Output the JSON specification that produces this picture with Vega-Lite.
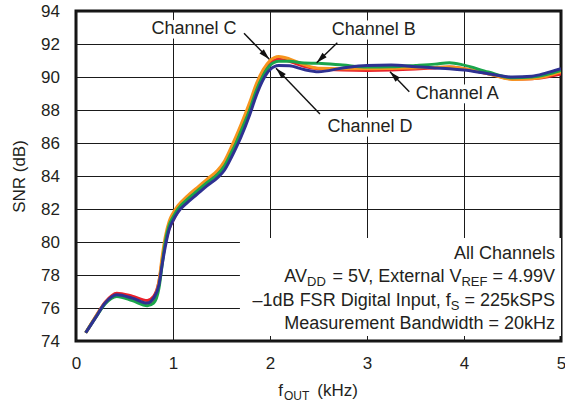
{
  "$schema": "https://vega.github.io/schema/vega-lite/v6.json",
  "width": 485,
  "height": 330,
  "autosize": {"type": "none"},
  "padding": {"left": 76, "top": 11, "right": 4, "bottom": 65},
  "background": "white",
  "datasets": {
    "snr": [
      {"ch":"A","f":0.1,"snr":74.5},{"ch":"A","f":0.2,"snr":75.45},{"ch":"A","f":0.3,"snr":76.35},{"ch":"A","f":0.42,"snr":76.9},{"ch":"A","f":0.58,"snr":76.72},{"ch":"A","f":0.735,"snr":76.46},{"ch":"A","f":0.8,"snr":76.7},{"ch":"A","f":0.855,"snr":77.6},{"ch":"A","f":0.89,"snr":78.9},{"ch":"A","f":0.92,"snr":79.9},{"ch":"A","f":0.96,"snr":80.8},{"ch":"A","f":1.0,"snr":81.3},{"ch":"A","f":1.05,"snr":81.85},{"ch":"A","f":1.15,"snr":82.5},{"ch":"A","f":1.25,"snr":83.05},{"ch":"A","f":1.35,"snr":83.6},{"ch":"A","f":1.46,"snr":84.15},{"ch":"A","f":1.53,"snr":84.7},{"ch":"A","f":1.6,"snr":85.5},{"ch":"A","f":1.65,"snr":86.1},{"ch":"A","f":1.7,"snr":86.85},{"ch":"A","f":1.79,"snr":88.2},{"ch":"A","f":1.86,"snr":89.4},{"ch":"A","f":1.93,"snr":90.3},{"ch":"A","f":2.0,"snr":90.85},{"ch":"A","f":2.09,"snr":91.07},{"ch":"A","f":2.2,"snr":90.95},{"ch":"A","f":2.35,"snr":90.65},{"ch":"A","f":2.5,"snr":90.5},{"ch":"A","f":2.75,"snr":90.42},{"ch":"A","f":3.0,"snr":90.4},{"ch":"A","f":3.25,"snr":90.42},{"ch":"A","f":3.5,"snr":90.48},{"ch":"A","f":3.7,"snr":90.55},{"ch":"A","f":3.85,"snr":90.6},{"ch":"A","f":4.0,"snr":90.5},{"ch":"A","f":4.25,"snr":90.2},{"ch":"A","f":4.5,"snr":89.88},{"ch":"A","f":4.7,"snr":89.9},{"ch":"A","f":4.85,"snr":90.0},{"ch":"A","f":5.0,"snr":90.18},
      {"ch":"C","f":0.1,"snr":74.5},{"ch":"C","f":0.2,"snr":75.45},{"ch":"C","f":0.3,"snr":76.3},{"ch":"C","f":0.42,"snr":76.75},{"ch":"C","f":0.58,"snr":76.55},{"ch":"C","f":0.735,"snr":76.25},{"ch":"C","f":0.8,"snr":76.5},{"ch":"C","f":0.855,"snr":77.6},{"ch":"C","f":0.89,"snr":79.2},{"ch":"C","f":0.92,"snr":80.3},{"ch":"C","f":0.96,"snr":81.25},{"ch":"C","f":1.0,"snr":81.75},{"ch":"C","f":1.05,"snr":82.2},{"ch":"C","f":1.15,"snr":82.8},{"ch":"C","f":1.25,"snr":83.3},{"ch":"C","f":1.35,"snr":83.8},{"ch":"C","f":1.46,"snr":84.35},{"ch":"C","f":1.53,"snr":84.9},{"ch":"C","f":1.6,"snr":85.75},{"ch":"C","f":1.65,"snr":86.4},{"ch":"C","f":1.7,"snr":87.1},{"ch":"C","f":1.79,"snr":88.45},{"ch":"C","f":1.86,"snr":89.6},{"ch":"C","f":1.93,"snr":90.45},{"ch":"C","f":2.0,"snr":91.0},{"ch":"C","f":2.09,"snr":91.25},{"ch":"C","f":2.2,"snr":91.1},{"ch":"C","f":2.35,"snr":90.75},{"ch":"C","f":2.5,"snr":90.53},{"ch":"C","f":2.75,"snr":90.5},{"ch":"C","f":3.0,"snr":90.5},{"ch":"C","f":3.25,"snr":90.52},{"ch":"C","f":3.5,"snr":90.55},{"ch":"C","f":3.7,"snr":90.58},{"ch":"C","f":3.85,"snr":90.6},{"ch":"C","f":4.0,"snr":90.5},{"ch":"C","f":4.25,"snr":90.2},{"ch":"C","f":4.5,"snr":89.85},{"ch":"C","f":4.7,"snr":89.9},{"ch":"C","f":4.85,"snr":90.05},{"ch":"C","f":5.0,"snr":90.3},
      {"ch":"B","f":0.1,"snr":74.5},{"ch":"B","f":0.2,"snr":75.4},{"ch":"B","f":0.3,"snr":76.25},{"ch":"B","f":0.42,"snr":76.7},{"ch":"B","f":0.58,"snr":76.45},{"ch":"B","f":0.735,"snr":76.14},{"ch":"B","f":0.8,"snr":76.3},{"ch":"B","f":0.855,"snr":77.2},{"ch":"B","f":0.89,"snr":78.7},{"ch":"B","f":0.92,"snr":80.0},{"ch":"B","f":0.96,"snr":81.0},{"ch":"B","f":1.0,"snr":81.5},{"ch":"B","f":1.05,"snr":82.0},{"ch":"B","f":1.15,"snr":82.6},{"ch":"B","f":1.25,"snr":83.1},{"ch":"B","f":1.35,"snr":83.6},{"ch":"B","f":1.46,"snr":84.1},{"ch":"B","f":1.53,"snr":84.6},{"ch":"B","f":1.6,"snr":85.4},{"ch":"B","f":1.65,"snr":86.0},{"ch":"B","f":1.7,"snr":86.7},{"ch":"B","f":1.79,"snr":88.0},{"ch":"B","f":1.86,"snr":89.2},{"ch":"B","f":1.93,"snr":90.1},{"ch":"B","f":2.0,"snr":90.7},{"ch":"B","f":2.09,"snr":90.95},{"ch":"B","f":2.2,"snr":90.95},{"ch":"B","f":2.35,"snr":90.85},{"ch":"B","f":2.5,"snr":90.83},{"ch":"B","f":2.75,"snr":90.72},{"ch":"B","f":3.0,"snr":90.6},{"ch":"B","f":3.25,"snr":90.62},{"ch":"B","f":3.5,"snr":90.7},{"ch":"B","f":3.7,"snr":90.78},{"ch":"B","f":3.85,"snr":90.87},{"ch":"B","f":4.0,"snr":90.72},{"ch":"B","f":4.25,"snr":90.3},{"ch":"B","f":4.5,"snr":89.95},{"ch":"B","f":4.7,"snr":90.0},{"ch":"B","f":4.85,"snr":90.15},{"ch":"B","f":5.0,"snr":90.4},
      {"ch":"D","f":0.1,"snr":74.5},{"ch":"D","f":0.2,"snr":75.4},{"ch":"D","f":0.3,"snr":76.3},{"ch":"D","f":0.42,"snr":76.8},{"ch":"D","f":0.58,"snr":76.6},{"ch":"D","f":0.735,"snr":76.3},{"ch":"D","f":0.8,"snr":76.6},{"ch":"D","f":0.855,"snr":77.4},{"ch":"D","f":0.89,"snr":78.7},{"ch":"D","f":0.92,"snr":79.7},{"ch":"D","f":0.96,"snr":80.75},{"ch":"D","f":1.0,"snr":81.3},{"ch":"D","f":1.05,"snr":81.8},{"ch":"D","f":1.15,"snr":82.4},{"ch":"D","f":1.25,"snr":82.9},{"ch":"D","f":1.35,"snr":83.4},{"ch":"D","f":1.46,"snr":83.9},{"ch":"D","f":1.53,"snr":84.35},{"ch":"D","f":1.6,"snr":85.1},{"ch":"D","f":1.65,"snr":85.7},{"ch":"D","f":1.7,"snr":86.35},{"ch":"D","f":1.79,"snr":87.7},{"ch":"D","f":1.86,"snr":88.9},{"ch":"D","f":1.93,"snr":89.85},{"ch":"D","f":2.0,"snr":90.45},{"ch":"D","f":2.09,"snr":90.7},{"ch":"D","f":2.2,"snr":90.68},{"ch":"D","f":2.35,"snr":90.45},{"ch":"D","f":2.5,"snr":90.32},{"ch":"D","f":2.75,"snr":90.55},{"ch":"D","f":3.0,"snr":90.7},{"ch":"D","f":3.25,"snr":90.72},{"ch":"D","f":3.5,"snr":90.62},{"ch":"D","f":3.7,"snr":90.55},{"ch":"D","f":3.85,"snr":90.5},{"ch":"D","f":4.0,"snr":90.42},{"ch":"D","f":4.25,"snr":90.2},{"ch":"D","f":4.5,"snr":90.0},{"ch":"D","f":4.7,"snr":90.05},{"ch":"D","f":4.85,"snr":90.25},{"ch":"D","f":5.0,"snr":90.5}
    ],
    "arrows": [
      {"label":"C","x0":1.732,"y0":92.65,"x":1.993,"y":91.07},
      {"label":"D","x0":2.515,"y0":87.76,"x":2.062,"y":90.53},
      {"label":"B","x0":2.694,"y0":92.08,"x":2.481,"y":90.87},
      {"label":"A","x0":3.436,"y0":89.11,"x":3.237,"y":90.32}
    ],
    "labels": [
      {"x": 1.216, "y": 92.59, "t": "Channel C"},
      {"x": 3.07, "y": 92.55, "t": "Channel B"},
      {"x": 3.93, "y": 88.67, "t": "Channel A"},
      {"x": 3.03, "y": 86.65, "t": "Channel D"}
    ]
  },
  "config": {
    "view": {"stroke": "#111", "strokeWidth": 3},
    "font": "Liberation Sans",
    "axis": {
      "labelFont": "Liberation Sans",
      "labelFontSize": 17,
      "labelColor": "#231f20",
      "labelOverlap": false,
      "titleFont": "Liberation Sans",
      "titleFontSize": 17,
      "titleFontWeight": "normal",
      "titleColor": "#231f20",
      "grid": true,
      "gridColor": "#1a1a1a",
      "gridWidth": 1,
      "gridOpacity": 1,
      "domain": false,
      "ticks": false,
      "tickSize": 0
    }
  },
  "layer": [
    {
      "data": {"values": [{"x1": 1.69, "x2": 5, "y1": 74.3, "y2": 80.24}]},
      "mark": {"type": "rect", "fill": "white", "strokeWidth": 0},
      "encoding": {
        "x": {"field": "x1", "type": "quantitative", "scale": {"domain": [0, 5], "nice": false, "zero": false},
              "axis": {"values": [0,1,2,3,4,5], "tickCount": 20, "format": ".0f", "title": null, "labelPadding": 14, "labelFlush": false}},
        "x2": {"field": "x2"},
        "y": {"field": "y1", "type": "quantitative", "scale": {"domain": [74, 94], "nice": false, "zero": false},
              "axis": {"values": [74,76,78,80,82,84,86,88,90,92,94], "tickCount": 30, "format": ".0f", "title": "SNR (dB)", "labelPadding": 16.5, "titleX": -52, "titleBaseline": "alphabetic"}},
        "y2": {"field": "y2"}
      }
    },
    {
      "data": {"name": "labels"},
      "mark": {"type": "text", "fontSize": 18, "font": "Liberation Sans", "color": "white", "stroke": "white", "strokeWidth": 9, "strokeJoin": "round", "align": "center", "baseline": "alphabetic"},
      "encoding": {
        "x": {"field": "x", "type": "quantitative"},
        "y": {"field": "y", "type": "quantitative"},
        "text": {"field": "t"}
      }
    },
    {
      "data": {"name": "snr"},
      "mark": {"type": "line", "strokeWidth": 3, "interpolate": "monotone", "clip": true},
      "encoding": {
        "x": {"field": "f", "type": "quantitative"},
        "y": {"field": "snr", "type": "quantitative"},
        "color": {"field": "ch", "type": "nominal", "legend": null,
                  "scale": {"domain": ["A","B","C","D"], "range": ["#e8202a","#1aa54b","#f7941d","#2e3192"]}},
        "order": {"field": "f", "type": "quantitative"}
      }
    },
    {
      "data": {"name": "arrows"},
      "mark": {"type": "rule", "color": "#111", "strokeWidth": 1.4},
      "encoding": {
        "x": {"field": "x0", "type": "quantitative"},
        "y": {"field": "y0", "type": "quantitative"},
        "x2": {"field": "x"},
        "y2": {"field": "y"}
      }
    },
    {
      "data": {"name": "arrows"},
      "transform": [{"calculate": "atan2((datum.x - datum.x0) * 97, (datum.y - datum.y0) * 16.5) * 180 / PI", "as": "ang"}],
      "mark": {"type": "point", "shape": "M0,0L-0.6,2.2L0.6,2.2Z", "filled": true, "color": "#111", "opacity": 1, "size": 100, "strokeWidth": 0},
      "encoding": {
        "x": {"field": "x", "type": "quantitative"},
        "y": {"field": "y", "type": "quantitative"},
        "angle": {"field": "ang", "type": "quantitative", "scale": null}
      }
    },
    {
      "data": {"name": "labels"},
      "mark": {"type": "text", "fontSize": 18, "font": "Liberation Sans", "color": "#231f20", "align": "center", "baseline": "alphabetic"},
      "encoding": {
        "x": {"field": "x", "type": "quantitative"},
        "y": {"field": "y", "type": "quantitative"},
        "text": {"field": "t"}
      }
    },
    {
      "data": {"values": [
        {"x": 5, "y": 79.0, "t": "All Channels"},
        {"x": 5, "y": 77.55, "t": "= 4.99V"},
        {"x": 5, "y": 76.12, "t": "= 225kSPS"},
        {"x": 5, "y": 74.71, "t": "Measurement Bandwidth = 20kHz"}
      ]},
      "mark": {"type": "text", "fontSize": 18, "font": "Liberation Sans", "color": "#231f20", "align": "right", "baseline": "alphabetic", "dx": -6},
      "encoding": {
        "x": {"field": "x", "type": "quantitative"},
        "y": {"field": "y", "type": "quantitative"},
        "text": {"field": "t"}
      }
    },
    {
      "data": {"values": [{"x": 5, "y": 77.55, "t": "REF"}]},
      "mark": {"type": "text", "fontSize": 13, "font": "Liberation Sans", "color": "#231f20", "align": "right", "baseline": "alphabetic", "dx": -73.6, "dy": 4},
      "encoding": {"x": {"field": "x", "type": "quantitative"}, "y": {"field": "y", "type": "quantitative"}, "text": {"field": "t"}}
    },
    {
      "data": {"values": [{"x": 5, "y": 77.55, "t": "= 5V, External V"}]},
      "mark": {"type": "text", "fontSize": 18, "font": "Liberation Sans", "color": "#231f20", "align": "right", "baseline": "alphabetic", "dx": -99.6},
      "encoding": {"x": {"field": "x", "type": "quantitative"}, "y": {"field": "y", "type": "quantitative"}, "text": {"field": "t"}}
    },
    {
      "data": {"values": [{"x": 5, "y": 77.55, "t": "DD"}]},
      "mark": {"type": "text", "fontSize": 13, "font": "Liberation Sans", "color": "#231f20", "align": "right", "baseline": "alphabetic", "dx": -235.2, "dy": 4},
      "encoding": {"x": {"field": "x", "type": "quantitative"}, "y": {"field": "y", "type": "quantitative"}, "text": {"field": "t"}}
    },
    {
      "data": {"values": [{"x": 5, "y": 77.55, "t": "AV"}]},
      "mark": {"type": "text", "fontSize": 18, "font": "Liberation Sans", "color": "#231f20", "align": "right", "baseline": "alphabetic", "dx": -254},
      "encoding": {"x": {"field": "x", "type": "quantitative"}, "y": {"field": "y", "type": "quantitative"}, "text": {"field": "t"}}
    },
    {
      "data": {"values": [{"x": 5, "y": 76.12, "t": "S"}]},
      "mark": {"type": "text", "fontSize": 13, "font": "Liberation Sans", "color": "#231f20", "align": "right", "baseline": "alphabetic", "dx": -101.6, "dy": 4},
      "encoding": {"x": {"field": "x", "type": "quantitative"}, "y": {"field": "y", "type": "quantitative"}, "text": {"field": "t"}}
    },
    {
      "data": {"values": [{"x": 5, "y": 76.12, "t": "–1dB FSR Digital Input, f"}]},
      "mark": {"type": "text", "fontSize": 18, "font": "Liberation Sans", "color": "#231f20", "align": "right", "baseline": "alphabetic", "dx": -110.3},
      "encoding": {"x": {"field": "x", "type": "quantitative"}, "y": {"field": "y", "type": "quantitative"}, "text": {"field": "t"}}
    },
    {
      "data": {"values": [{"x": 2.5, "y": 74, "t": "f"}]},
      "mark": {"type": "text", "fontSize": 17, "font": "Liberation Sans", "color": "#231f20", "align": "left", "baseline": "alphabetic", "dx": -40.2, "dy": 54.5},
      "encoding": {"x": {"field": "x", "type": "quantitative"}, "y": {"field": "y", "type": "quantitative"}, "text": {"field": "t"}}
    },
    {
      "data": {"values": [{"x": 2.5, "y": 74, "t": "OUT"}]},
      "mark": {"type": "text", "fontSize": 12, "font": "Liberation Sans", "color": "#231f20", "align": "left", "baseline": "alphabetic", "dx": -34.5, "dy": 59},
      "encoding": {"x": {"field": "x", "type": "quantitative"}, "y": {"field": "y", "type": "quantitative"}, "text": {"field": "t"}}
    },
    {
      "data": {"values": [{"x": 2.5, "y": 74, "t": "(kHz)"}]},
      "mark": {"type": "text", "fontSize": 17, "font": "Liberation Sans", "color": "#231f20", "align": "left", "baseline": "alphabetic", "dx": -1.2, "dy": 54.5},
      "encoding": {"x": {"field": "x", "type": "quantitative"}, "y": {"field": "y", "type": "quantitative"}, "text": {"field": "t"}}
    }
  ]
}
